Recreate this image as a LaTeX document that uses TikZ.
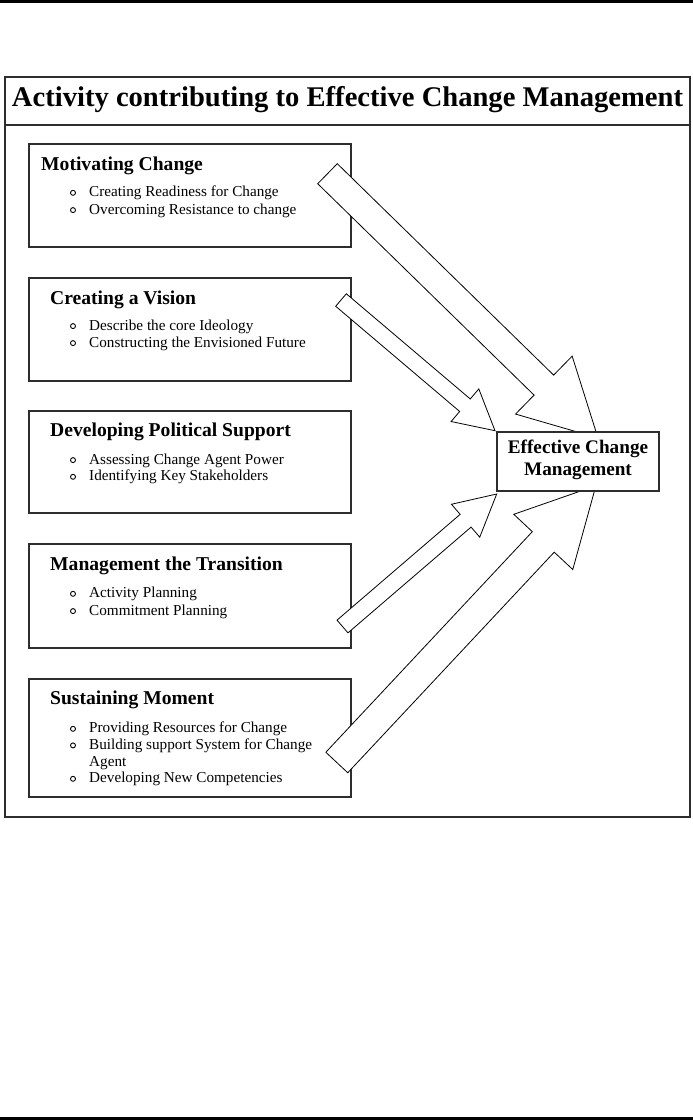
\documentclass[tikz,border=0pt]{standalone}
\usepackage{fontspec}
\usepackage{graphicx}
\setmainfont{Liberation Serif}
\usetikzlibrary{calc}
\definecolor{boxgray}{RGB}{45,45,45}
\newcommand\headfont{\fontsize{19.6}{22}\selectfont\bfseries}
\newcommand\itemfont{\fontsize{15.2}{17}\selectfont}
% #1 tail, #2 tip, #3 half shaft width, #4 half head width, #5 head length
\newcommand\blockarrow[5]{%
  \coordinate (ba-s) at ($(#2)!#5!(#1)$);
  \draw[blockarr] ($(#1)!#3!90:(#2)$) -- ($(ba-s)!#3!-90:(#1)$) -- ($(ba-s)!#4!-90:(#1)$)
    -- (#2) -- ($(ba-s)!#4!90:(#1)$) -- ($(ba-s)!#3!90:(#1)$) -- ($(#1)!#3!-90:(#2)$) -- cycle;}
\newcommand\itemline[3]{%
  \node[bul] (#1c) at (73,#2-3.9) {};
  \node[itemtxt] (#1) at (89,#2) {#3};}
\begin{document}
\begin{tikzpicture}[x=1pt,y=-1pt,
  actbox/.style={draw=boxgray, line width=1.8pt, fill=white, inner sep=0pt},
  framebox/.style={draw=boxgray, line width=2pt, inner sep=0pt},
  headtxt/.style={anchor=base west, inner sep=0pt, font=\headfont},
  itemtxt/.style={anchor=base west, inner sep=0pt, font=\itemfont},
  bul/.style={circle, draw=black, line width=0.9pt, inner sep=0pt, minimum size=5pt},
  blockarr/.style={draw=black, fill=white, line width=0.8pt, line join=miter},
  targettxt/.style={anchor=base, inner sep=0pt, font=\fontsize{19.2}{22}\selectfont\bfseries}]
\useasboundingbox (0,0) rectangle (693,1120);
\fill[black] (0,0) rectangle (693,2.8);
\fill[black] (0,1117) rectangle (693,1120);
% frame
\node[framebox, minimum width=685pt, minimum height=740pt] (frame) at (347.5,447) {};
\draw[boxgray, line width=2pt] (frame.west |- 0,125) coordinate (divl) -- (frame.east |- 0,125) coordinate (divr);
\node[anchor=base, inner sep=0pt] (title) at (347.5,106)
  {\resizebox{671pt}{\height}{\fontsize{28.5}{30}\selectfont\bfseries Activity contributing to Effective Change Management}};
% activity boxes
\node[actbox, minimum width=322pt, minimum height=103pt] (b1) at (190,195.5) {};
\node[actbox, minimum width=322pt, minimum height=103pt] (b2) at (190,329.5) {};
\node[actbox, minimum width=322pt, minimum height=102pt] (b3) at (190,462) {};
\node[actbox, minimum width=322pt, minimum height=104pt] (b4) at (190,596) {};
\node[actbox, minimum width=322pt, minimum height=118pt] (b5) at (190,738) {};
% texts
\node[headtxt] (h1) at (41,170) {Motivating Change};
\itemline{i11}{196.7}{Creating Readiness for Change}
\itemline{i12}{214}{Overcoming Resistance to change}
\node[headtxt] (h2) at (50,304) {Creating a Vision};
\itemline{i21}{330}{Describe the core Ideology}
\itemline{i22}{347}{Constructing the Envisioned Future}
\node[headtxt] (h3) at (50,436.7) {Developing Political Support};
\itemline{i31}{464}{Assessing Change Agent Power}
\itemline{i32}{480.7}{Identifying Key Stakeholders}
\node[headtxt] (h4) at (50,570) {Management the Transition};
\itemline{i41}{597.7}{Activity Planning}
\itemline{i42}{615}{Commitment Planning}
\node[headtxt] (h5) at (50,704.3) {Sustaining Moment};
\itemline{i51}{732.7}{Providing Resources for Change}
\itemline{i52}{749.3}{Building support System for Change}
\node[itemtxt] (i52b) at (89,766) {Agent};
\itemline{i53}{782.7}{Developing New Competencies}
% arrow end points
\coordinate (a1t) at (327.5,173.7);
\coordinate (a1h) at (598,438);
\coordinate (a2t) at (341,300);
\coordinate (a2h) at (495,430.7);
\coordinate (a3t) at (342.5,626.5);
\coordinate (a3h) at (496.7,494);
\coordinate (a4t) at (336.8,762.5);
\coordinate (a4h) at (595.9,485.7);
\blockarrow{a1t}{a1h}{14pt}{40.5pt}{75.7pt}
\blockarrow{a2t}{a2h}{8.2pt}{21.4pt}{39.4pt}
\blockarrow{a3t}{a3h}{8.4pt}{21.7pt}{41pt}
\blockarrow{a4t}{a4h}{15pt}{40.4pt}{77pt}
% target
\node[actbox, minimum width=162pt, minimum height=59pt] (target) at (578,461.5) {};
\node[targettxt] (tt1) at (578,453) {Effective Change};
\node[targettxt] (tt2) at (578,475) {Management};
\end{tikzpicture}
\end{document}
